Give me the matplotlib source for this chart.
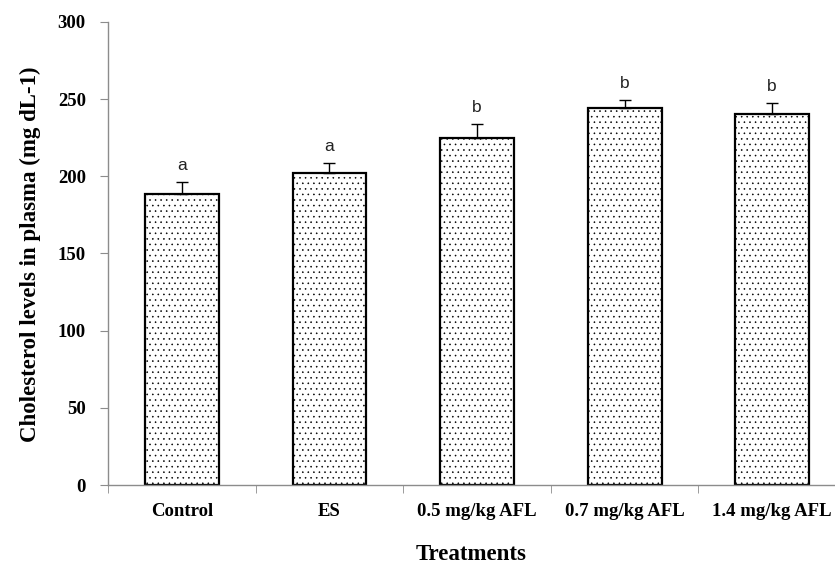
import numpy as np
import matplotlib
matplotlib.use("Agg")
import matplotlib.pyplot as plt

treatments = ["Control", "ES", "0.5 mg/kg AFL", "0.7 mg/kg AFL", "1.4 mg/kg AFL"]
cholesterol = [188.7, 202.4, 224.9, 244.5, 240.4]
err = [7.4, 6.0, 8.9, 5.2, 7.0]
letters = ["a", "a", "b", "b", "b"]

plt.rcParams["hatch.linewidth"] = 0.4
plt.rcParams["hatch.color"] = "#666666"

fig = plt.figure(figsize=(8.35, 5.72), dpi=100)
# axes runs a little past the right edge, like the cropped original
ax = fig.add_axes([108 / 835, 87 / 572, 738 / 835, 463 / 572])

x = np.arange(len(treatments))
ax.bar(x, cholesterol, width=0.5, color="white", edgecolor="black",
       linewidth=1.6, hatch="...", zorder=2)
ax.errorbar(x, cholesterol, yerr=[np.zeros(len(err)), err], fmt="none",
            ecolor="black", elinewidth=1.0, capsize=4.5, capthick=1.0, zorder=3)

for xi, v, e, lab in zip(x, cholesterol, err, letters):
    ax.annotate(lab, (xi, v + e), xytext=(0, 6.5), textcoords="offset points",
                ha="center", va="bottom", fontsize=12.5,
                family="Liberation Sans", color="#222222")

ax.set_xlim(-0.5, len(treatments) - 0.5)
ax.set_ylim(0, 300)
ax.set_yticks(range(0, 301, 50))

ax.set_xticks(x)
ax.set_xticklabels(treatments)
ax.set_xticks(np.arange(-0.5, len(treatments), 1.0), minor=True)
ax.tick_params(axis="x", which="major", length=0, pad=13)
ax.tick_params(axis="x", which="minor", length=6, direction="out", color="#8c8c8c")
ax.tick_params(axis="y", length=6, direction="out", color="#8c8c8c", pad=10)

for lab in ax.get_xticklabels():
    lab.set_fontfamily("Liberation Serif")
    lab.set_fontweight("bold")
    lab.set_fontsize(13.5)
for lab in ax.get_yticklabels():
    lab.set_fontfamily("Liberation Serif")
    lab.set_fontweight("bold")
    lab.set_fontsize(13.5)

for s in ["top", "right"]:
    ax.spines[s].set_visible(False)
for s in ["left", "bottom"]:
    ax.spines[s].set_color("#8c8c8c")
    ax.spines[s].set_linewidth(1.0)

fig.text(30 / 835, 1 - 254 / 572, "Cholesterol levels in plasma (mg dL-1)",
         rotation=90, ha="center", va="center", fontsize=16.5,
         family="Liberation Serif", fontweight="bold")
fig.text(471 / 835, 1 - 555 / 572, "Treatments", ha="center", va="center",
         fontsize=16.5, family="Liberation Serif", fontweight="bold")

fig.savefig("out.png", dpi=100)
